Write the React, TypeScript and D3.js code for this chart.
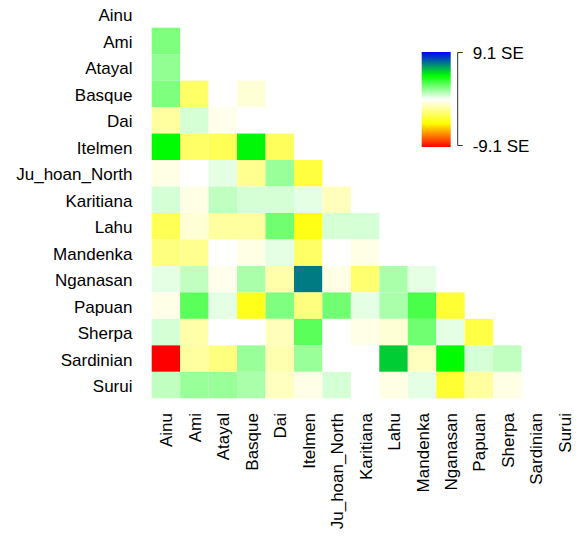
import React from "react";
import * as d3 from "d3";

const populations = [
  "Ainu", "Ami", "Atayal", "Basque", "Dai", "Itelmen", "Ju_hoan_North",
  "Karitiana", "Lahu", "Mandenka", "Nganasan", "Papuan", "Sherpa", "Sardinian", "Surui",
];

// Values in SE units; each row follows the column order of `populations`.
const rowAinu: number[] = [];
const rowAmi = [2.3];
const rowAtayal = [1.95, 0];
const rowBasque = [2.3, -2.73, 0, -0.75];
const rowDai = [-1.69, 0.75, -0.34];
const rowItelmen = [4.6, -2.73, -3.03, 4.7, -2.9];
const rowJuHoanNorth = [-0.46, 0, 0.46, -1.98, 1.82, -3.41];
const rowKaritiana = [0.75, -0.46, 1.12, 0.75, 0.75, 0.46, -1.21];
const rowLahu = [-3.03, -0.75, -1.69, -1.69, 2.55, -4.18, 0.75, 0.75];
const rowMandenka = [-2.28, -1.98, 0, -0.46, 0.46, -2.73, 0, -0.46, 0];
const rowNganasan = [0.46, 1.12, -0.34, 1.52, -1.52, 6.9, -0.46, -2.55, 1.52, 0.46];
const rowPapuan = [-0.41, 2.94, 0.46, -4.09, 2.28, -2.28, 2.55, 0.46, 1.52, 3.23, -3.64];
const rowSherpa = [0.75, -1.52, 0, 0, -1.21, 2.94, 0, -0.41, -0.75, 2.55, 0.46, -3.34];
const rowSardinian = [-9.1, -1.69, -2.28, 1.82, -1.41, 1.82, 0, 0, 5.46, -1.12, 4.6, 0.75, 1.12];
const rowSurui = [1.12, 1.82, 1.82, 1.52, -1.12, -0.41, 0.75, 0, -0.46, 0.46, -3.64, -1.69, -0.46, 0];

const rows = [
  rowAinu, rowAmi, rowAtayal, rowBasque, rowDai, rowItelmen, rowJuHoanNorth,
  rowKaritiana, rowLahu, rowMandenka, rowNganasan, rowPapuan, rowSherpa, rowSardinian, rowSurui,
];

const legendMax = 9.1;
const legendLabels = ["9.1 SE", "-9.1 SE"];

const W = 579;
const H = 539;
const FONT = "'Liberation Sans', Arial, sans-serif";

export default function App() {
  const x = d3.scaleBand<string>().domain(populations).range([151.7, 578.5]).padding(0);
  const y = d3.scaleBand<string>().domain(populations).range([1.2, 398.3]).padding(0);
  const color = d3
    .scaleLinear<string>()
    .domain([-legendMax, -legendMax / 2, 0, legendMax / 2, legendMax])
    .range(["#ff0000", "#ffff00", "#ffffff", "#00ff00", "#0000ff"])
    .interpolate(d3.interpolateRgb)
    .clamp(true);

  const cells: { r: string; c: string; v: number }[] = [];
  rows.forEach((vals, i) => {
    vals.forEach((v, j) => {
      if (v !== null && v !== undefined) cells.push({ r: populations[i], c: populations[j], v });
    });
  });

  const legY = d3.scaleLinear().domain([legendMax, -legendMax]).range([52, 147]);
  const stops = d3.range(0, 1.0001, 0.05);

  return (
    <svg
      width={W}
      height={H}
      style={{ position: "absolute", left: 0, top: 0, background: "#fff" }}
      fontFamily={FONT}
    >
      <defs>
        <linearGradient id="leg" x1="0" y1="0" x2="0" y2="1">
          {stops.map((s) => (
            <stop key={s} offset={s} stopColor={color(legendMax - s * 2 * legendMax)} />
          ))}
        </linearGradient>
      </defs>
      <rect x={0} y={0} width={W} height={H} fill="#fff" />
      {cells.map((d) => (
        <rect
          key={d.r + "-" + d.c}
          x={x(d.c)}
          y={y(d.r)}
          width={x.bandwidth()}
          height={y.bandwidth()}
          fill={color(d.v)}
        />
      ))}
      {populations.map((p) => (
        <text
          key={"r" + p}
          x={132.5}
          y={(y(p) as number) + y.bandwidth() / 2 + 1.5}
          textAnchor="end"
          dominantBaseline="central"
          fontSize={17}
          fill="#000"
        >
          {p}
        </text>
      ))}
      {populations.map((p) => {
        const cx = (x(p) as number) + x.bandwidth() / 2 + 1;
        const ty = 413;
        return (
          <text
            key={"c" + p}
            transform={`translate(${cx},${ty}) rotate(-90)`}
            textAnchor="end"
            dominantBaseline="central"
            fontSize={17}
            fill="#000"
          >
            {p}
          </text>
        );
      })}
      <rect x={421.7} y={legY(legendMax)} width={29} height={legY(-legendMax) - legY(legendMax)} fill="url(#leg)" />
      <path
        d={`M462.7,${legY(legendMax) + 0.5}H457.7V${legY(-legendMax) - 1.5}H462.7`}
        fill="none"
        stroke="#333"
        strokeWidth={1}
      />
      <text x={472.7} y={legY(legendMax) + 1} dominantBaseline="central" fontSize={17} fill="#000">
        {legendLabels[0]}
      </text>
      <text x={472.7} y={legY(-legendMax) - 0.5} dominantBaseline="central" fontSize={17} fill="#000">
        {legendLabels[1]}
      </text>
    </svg>
  );
}
